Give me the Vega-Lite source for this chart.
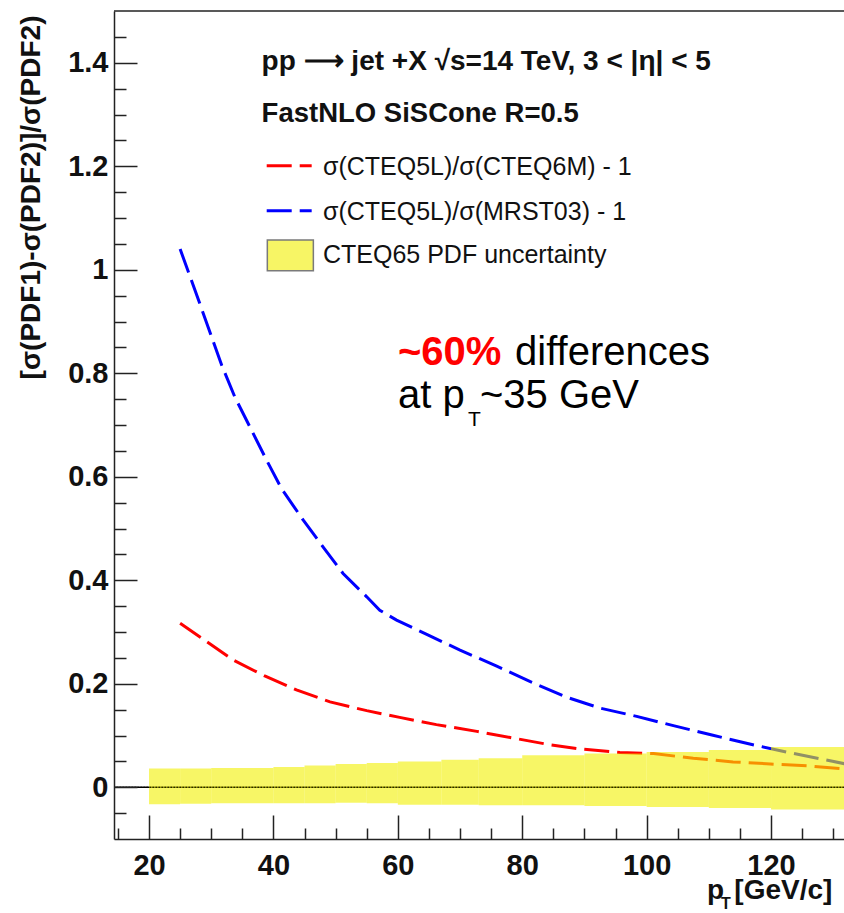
{
  "$schema": "https://vega.github.io/schema/vega-lite/v6.json",
  "width": 730,
  "height": 828,
  "autosize": {"type": "none"},
  "padding": {"left": 114, "top": 11, "right": 0, "bottom": 74},
  "background": "white",
  "config": {
    "view": {"stroke": null},
    "font": "Liberation Sans",
    "axis": {
      "grid": false,
      "domainColor": "#222222",
      "domainWidth": 1.5,
      "tickColor": "#222222",
      "tickWidth": 1.5,
      "labelFont": "Liberation Sans",
      "labelFontWeight": "bold",
      "labelFontSize": 29,
      "labelColor": "#111111"
    }
  },
  "datasets": {
    "curves": [
      {"series": "MRST03", "pT": 25, "val": 1.04},
      {"series": "MRST03", "pT": 28, "val": 0.94},
      {"series": "MRST03", "pT": 31.7, "val": 0.815},
      {"series": "MRST03", "pT": 33.8, "val": 0.754},
      {"series": "MRST03", "pT": 38.9, "val": 0.632},
      {"series": "MRST03", "pT": 41.3, "val": 0.577},
      {"series": "MRST03", "pT": 44.8, "val": 0.516},
      {"series": "MRST03", "pT": 48, "val": 0.464},
      {"series": "MRST03", "pT": 51.2, "val": 0.413},
      {"series": "MRST03", "pT": 55, "val": 0.368},
      {"series": "MRST03", "pT": 57.1, "val": 0.342},
      {"series": "MRST03", "pT": 59.8, "val": 0.323},
      {"series": "MRST03", "pT": 64.9, "val": 0.294},
      {"series": "MRST03", "pT": 70, "val": 0.265},
      {"series": "MRST03", "pT": 75.9, "val": 0.234},
      {"series": "MRST03", "pT": 81.3, "val": 0.204},
      {"series": "MRST03", "pT": 86.9, "val": 0.175},
      {"series": "MRST03", "pT": 92.5, "val": 0.153},
      {"series": "MRST03", "pT": 98.4, "val": 0.137},
      {"series": "MRST03", "pT": 104.3, "val": 0.119},
      {"series": "MRST03", "pT": 110.5, "val": 0.101},
      {"series": "MRST03", "pT": 116.4, "val": 0.084},
      {"series": "MRST03", "pT": 122.5, "val": 0.068},
      {"series": "MRST03", "pT": 128.7, "val": 0.053},
      {"series": "MRST03", "pT": 132, "val": 0.045},
      {"series": "CTEQ6M", "pT": 25, "val": 0.317},
      {"series": "CTEQ6M", "pT": 28.5, "val": 0.288},
      {"series": "CTEQ6M", "pT": 33.5, "val": 0.246},
      {"series": "CTEQ6M", "pT": 38.6, "val": 0.215},
      {"series": "CTEQ6M", "pT": 43.7, "val": 0.188},
      {"series": "CTEQ6M", "pT": 49.1, "val": 0.165},
      {"series": "CTEQ6M", "pT": 55, "val": 0.148},
      {"series": "CTEQ6M", "pT": 60.3, "val": 0.135},
      {"series": "CTEQ6M", "pT": 66.2, "val": 0.121},
      {"series": "CTEQ6M", "pT": 72.7, "val": 0.108},
      {"series": "CTEQ6M", "pT": 78.6, "val": 0.095},
      {"series": "CTEQ6M", "pT": 84.5, "val": 0.082},
      {"series": "CTEQ6M", "pT": 89.3, "val": 0.074},
      {"series": "CTEQ6M", "pT": 95.7, "val": 0.067},
      {"series": "CTEQ6M", "pT": 101.1, "val": 0.065},
      {"series": "CTEQ6M", "pT": 107.5, "val": 0.056},
      {"series": "CTEQ6M", "pT": 113.9, "val": 0.049},
      {"series": "CTEQ6M", "pT": 119.9, "val": 0.045},
      {"series": "CTEQ6M", "pT": 126.3, "val": 0.041},
      {"series": "CTEQ6M", "pT": 132, "val": 0.035}
    ],
    "band": [
      {"lo": 20, "hi": 25, "low": -0.033, "high": 0.036},
      {"lo": 25, "hi": 30, "low": -0.032, "high": 0.036},
      {"lo": 30, "hi": 40, "low": -0.031, "high": 0.037},
      {"lo": 40, "hi": 45, "low": -0.031, "high": 0.039},
      {"lo": 45, "hi": 50, "low": -0.031, "high": 0.042},
      {"lo": 50, "hi": 55, "low": -0.03, "high": 0.045},
      {"lo": 55, "hi": 60, "low": -0.031, "high": 0.047},
      {"lo": 60, "hi": 67, "low": -0.034, "high": 0.05},
      {"lo": 67, "hi": 73, "low": -0.034, "high": 0.053},
      {"lo": 73, "hi": 80, "low": -0.035, "high": 0.056},
      {"lo": 80, "hi": 90, "low": -0.035, "high": 0.062},
      {"lo": 90, "hi": 100, "low": -0.036, "high": 0.065},
      {"lo": 100, "hi": 110, "low": -0.038, "high": 0.068},
      {"lo": 110, "hi": 120, "low": -0.04, "high": 0.072},
      {"lo": 120, "hi": 133, "low": -0.043, "high": 0.078}
    ],
    "zeroLine": [
      {"ref": 0}
    ],
    "topLine": [
      {"ref": 1.5}
    ],
    "legendLines": [
      {"series": "CTEQ6M", "x1": 38.92, "x2": 46.15, "y": 1.201},
      {"series": "MRST03", "x1": 38.92, "x2": 46.15, "y": 1.114}
    ],
    "legendBox": [
      {"x1": 39.02, "x2": 46.42, "y1": 0.998, "y2": 1.0575}
    ],
    "header1": [
      {"x": 38.1, "y": 1.386, "label": "pp ⟶ jet +X  √s=14 TeV, 3 < |η| < 5"}
    ],
    "header2": [
      {"x": 38.1, "y": 1.286, "label": "FastNLO SiSCone R=0.5"}
    ],
    "entries": [
      {"x": 47.97, "y": 1.199, "label": "σ(CTEQ5L)/σ(CTEQ6M) - 1"},
      {"x": 47.97, "y": 1.112, "label": "σ(CTEQ5L)/σ(MRST03) - 1"},
      {"x": 47.97, "y": 1.0285, "label": "CTEQ65 PDF uncertainty"}
    ],
    "annRed": [
      {"x": 60.03, "y": 0.816, "label": "~60%"}
    ],
    "annBlack": [
      {"x": 78.84, "y": 0.816, "label": "differences"},
      {"x": 60.03, "y": 0.733, "label": "at p"},
      {"x": 73.21, "y": 0.733, "label": "~35 GeV"}
    ],
    "annSub": [
      {"x": 71.28, "y": 0.698, "label": "T"}
    ],
    "xTitle": [
      {"x": 109.71, "y": -0.216, "label": "p"},
      {"x": 114.1, "y": -0.216, "label": "[GeV/c]"}
    ],
    "xTitleSub": [
      {"x": 111.95, "y": -0.236, "label": "T"}
    ]
  },
  "layer": [
    {
      "data": {"name": "zeroLine"},
      "mark": {"type": "rule", "color": "#000000", "strokeWidth": 1.5},
      "encoding": {
        "y": {"field": "ref", "type": "quantitative", "scale": {"domain": [-0.1, 1.5], "nice": false, "zero": false}, "axis": null}
      }
    },
    {
      "data": {"name": "curves"},
      "mark": {"type": "line", "strokeWidth": 3, "strokeDash": [25, 8], "clip": true},
      "encoding": {
        "x": {
          "field": "pT", "type": "quantitative",
          "scale": {"domain": [14.37, 131.73], "nice": false, "zero": false},
          "axis": {"orient": "bottom", "values": [20, 40, 60, 80, 100, 120], "ticks": false, "labelPadding": 12, "title": null, "zindex": 1}
        },
        "y": {
          "field": "val", "type": "quantitative",
          "scale": {"domain": [-0.1, 1.5], "nice": false, "zero": false},
          "axis": {
            "orient": "left", "values": [0, 0.2, 0.4, 0.6, 0.8, 1, 1.2, 1.4], "format": ".1~f",
            "ticks": false, "labelPadding": 6, "zindex": 1,
            "title": "[σ(PDF1)-σ(PDF2)]/σ(PDF2)",
            "titleFont": "Liberation Sans", "titleFontWeight": "bold", "titleFontSize": 28, "titleColor": "#111111",
            "titleAngle": 270, "titleAlign": "right", "titleBaseline": "middle",
            "titleX": -83, "titleY": 4
          }
        },
        "color": {"field": "series", "type": "nominal", "scale": {"domain": ["CTEQ6M", "MRST03"], "range": ["#ff0000", "#0000ff"]}, "legend": null},
        "detail": {"field": "series"}
      }
    },
    {
      "data": {"name": "band"},
      "mark": {"type": "rect", "color": "#f2f000", "opacity": 0.6, "clip": true},
      "encoding": {
        "x": {"field": "lo", "type": "quantitative", "axis": {"orient": "bottom", "values": [20, 40, 60, 80, 100, 120], "labels": false, "domain": false, "tickSize": -24, "title": null, "zindex": 1}},
        "x2": {"field": "hi"},
        "y": {"field": "low", "type": "quantitative", "axis": {"orient": "left", "values": [0, 0.2, 0.4, 0.6, 0.8, 1, 1.2, 1.4], "labels": false, "domain": false, "tickSize": -23, "title": null, "zindex": 1}},
        "y2": {"field": "high"}
      }
    },
    {
      "data": {"name": "zeroLine"},
      "mark": {"type": "rule", "color": "#000000", "strokeWidth": 1.2, "strokeDash": [1.5, 1.5]},
      "encoding": {
        "y": {"field": "ref", "type": "quantitative", "axis": null}
      }
    },
    {
      "data": {"name": "legendLines"},
      "mark": {"type": "rule", "strokeWidth": 3, "strokeDash": [25, 8]},
      "encoding": {
        "x": {"field": "x1", "type": "quantitative", "axis": {"orient": "bottom", "values": [15, 25, 30, 35, 45, 50, 55, 65, 70, 75, 85, 90, 95, 105, 110, 115, 125, 130], "labels": false, "domain": false, "tickSize": -11, "title": null, "zindex": 1}},
        "x2": {"field": "x2"},
        "y": {"field": "y", "type": "quantitative", "axis": {"orient": "left", "values": [-0.05, 0.05, 0.1, 0.15, 0.25, 0.3, 0.35, 0.45, 0.5, 0.55, 0.65, 0.7, 0.75, 0.85, 0.9, 0.95, 1.05, 1.1, 1.15, 1.25, 1.3, 1.35, 1.45], "labels": false, "domain": false, "tickSize": -12, "title": null, "zindex": 1}},
        "color": {"field": "series", "type": "nominal", "scale": {"domain": ["CTEQ6M", "MRST03"], "range": ["#ff0000", "#0000ff"]}, "legend": null}
      }
    },
    {
      "data": {"name": "topLine"},
      "mark": {"type": "rule", "color": "#222222", "strokeWidth": 1.5},
      "encoding": {
        "y": {"field": "ref", "type": "quantitative", "axis": null}
      }
    },
    {
      "data": {"name": "legendBox"},
      "mark": {"type": "rect", "color": "#f2f000", "opacity": 0.6, "stroke": "#222222", "strokeWidth": 1.5, "strokeOpacity": 1},
      "encoding": {
        "x": {"field": "x1", "type": "quantitative", "axis": null},
        "x2": {"field": "x2"},
        "y": {"field": "y1", "type": "quantitative", "axis": null},
        "y2": {"field": "y2"}
      }
    },
    {
      "data": {"name": "header1"},
      "mark": {"type": "text", "font": "Liberation Sans", "fontWeight": "bold", "fontSize": 28, "align": "left", "baseline": "alphabetic", "color": "#111111"},
      "encoding": {
        "x": {"field": "x", "type": "quantitative", "axis": null},
        "y": {"field": "y", "type": "quantitative", "axis": null},
        "text": {"field": "label"}
      }
    },
    {
      "data": {"name": "header2"},
      "mark": {"type": "text", "font": "Liberation Sans", "fontWeight": "bold", "fontSize": 27.5, "align": "left", "baseline": "alphabetic", "color": "#111111"},
      "encoding": {
        "x": {"field": "x", "type": "quantitative", "axis": null},
        "y": {"field": "y", "type": "quantitative", "axis": null},
        "text": {"field": "label"}
      }
    },
    {
      "data": {"name": "entries"},
      "mark": {"type": "text", "font": "Liberation Sans", "fontSize": 25, "align": "left", "baseline": "middle", "color": "#111111"},
      "encoding": {
        "x": {"field": "x", "type": "quantitative", "axis": null},
        "y": {"field": "y", "type": "quantitative", "axis": null},
        "text": {"field": "label"}
      }
    },
    {
      "data": {"name": "annRed"},
      "mark": {"type": "text", "font": "Liberation Sans", "fontWeight": "bold", "fontSize": 40, "align": "left", "baseline": "alphabetic", "color": "#ff0000"},
      "encoding": {
        "x": {"field": "x", "type": "quantitative", "axis": null},
        "y": {"field": "y", "type": "quantitative", "axis": null},
        "text": {"field": "label"}
      }
    },
    {
      "data": {"name": "annBlack"},
      "mark": {"type": "text", "font": "Liberation Sans", "fontSize": 40, "align": "left", "baseline": "alphabetic", "color": "#000000"},
      "encoding": {
        "x": {"field": "x", "type": "quantitative", "axis": null},
        "y": {"field": "y", "type": "quantitative", "axis": null},
        "text": {"field": "label"}
      }
    },
    {
      "data": {"name": "annSub"},
      "mark": {"type": "text", "font": "Liberation Sans", "fontSize": 21, "align": "left", "baseline": "alphabetic", "color": "#000000"},
      "encoding": {
        "x": {"field": "x", "type": "quantitative", "axis": null},
        "y": {"field": "y", "type": "quantitative", "axis": null},
        "text": {"field": "label"}
      }
    },
    {
      "data": {"name": "xTitle"},
      "mark": {"type": "text", "font": "Liberation Sans", "fontWeight": "bold", "fontSize": 28, "align": "left", "baseline": "alphabetic", "color": "#111111"},
      "encoding": {
        "x": {"field": "x", "type": "quantitative", "axis": null},
        "y": {"field": "y", "type": "quantitative", "axis": null},
        "text": {"field": "label"}
      }
    },
    {
      "data": {"name": "xTitleSub"},
      "mark": {"type": "text", "font": "Liberation Sans", "fontWeight": "bold", "fontSize": 16, "align": "left", "baseline": "alphabetic", "color": "#111111"},
      "encoding": {
        "x": {"field": "x", "type": "quantitative", "axis": null},
        "y": {"field": "y", "type": "quantitative", "axis": null},
        "text": {"field": "label"}
      }
    }
  ],
  "resolve": {"axis": {"x": "independent", "y": "independent"}}
}
